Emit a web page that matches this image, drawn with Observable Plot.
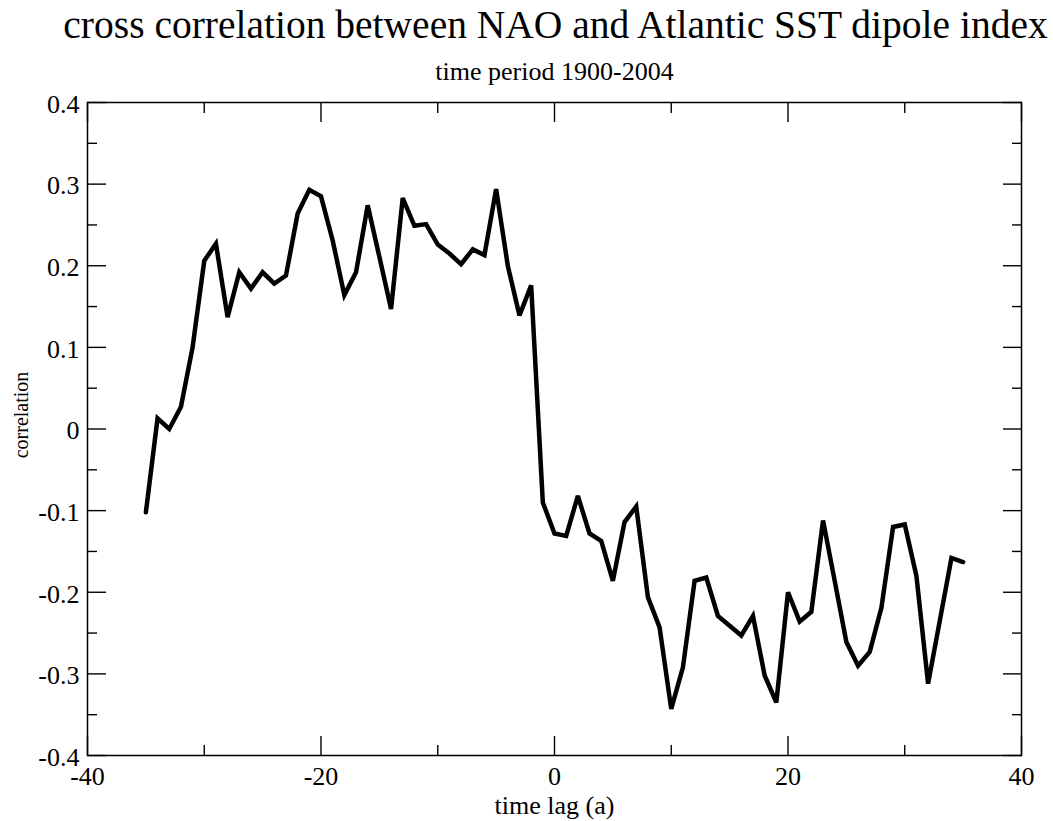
<!DOCTYPE html>
<html>
<head>
<meta charset="utf-8">
<script src="https://cdn.jsdelivr.net/npm/d3@7"></script>
<script src="https://cdn.jsdelivr.net/npm/@observablehq/plot@0.6"></script>
<style>
  html, body { margin: 0; padding: 0; background: #fff; }
  #chart svg { display: block; }
</style>
</head>
<body>
<div id="chart"></div>
<script>
const title = "cross correlation between NAO and Atlantic SST dipole index";
const subtitle = "time period 1900-2004";
const xLabel = "time lag (a)";
const yLabel = "correlation";

const lags = [
  -35, -34, -33, -32, -31, -30, -29, -28, -27, -26, -25, -24, -23, -22, -21, -20,
  -19, -18, -17, -16, -15, -14, -13, -12, -11, -10, -9, -8, -7, -6, -5, -4, -3, -2, -1,
  0, 1, 2, 3, 4, 5, 6, 7, 8, 9, 10, 11, 12, 13, 14, 15, 16, 17, 18, 19, 20,
  21, 22, 23, 24, 25, 26, 27, 28, 29, 30, 31, 32, 33, 34, 35
];
const correlation = [
  -0.102, 0.013, 0.000, 0.027, 0.100, 0.206, 0.227, 0.137, 0.192, 0.172, 0.192, 0.178, 0.188, 0.264, 0.293, 0.285,
  0.231, 0.164, 0.192, 0.274, 0.211, 0.147, 0.283, 0.249, 0.251, 0.226, 0.215, 0.202, 0.220, 0.213, 0.294, 0.200, 0.139, 0.176, -0.090,
  -0.128, -0.131, -0.082, -0.128, -0.137, -0.186, -0.114, -0.095, -0.206, -0.243, -0.343, -0.292, -0.186, -0.182, -0.229, -0.241, -0.253, -0.229, -0.302, -0.335, -0.200,
  -0.236, -0.224, -0.112, -0.186, -0.261, -0.290, -0.273, -0.219, -0.120, -0.117, -0.180, -0.312, -0.235, -0.158, -0.163
];

const xMajorTicks = [-40, -20, 0, 20, 40];
const xMinorTicks = [-30, -10, 10, 30];
const yMajorTicks = [-0.4, -0.3, -0.2, -0.1, 0, 0.1, 0.2, 0.3, 0.4];
const yMinorTicks = [-0.35, -0.25, -0.15, -0.05, 0.05, 0.15, 0.25, 0.35];

const data = lags.map((lag, i) => ({lag, r: correlation[i]}));
const fmtY = d => d === 0 ? "0" : d.toFixed(1);

const font = "'Liberation Serif', 'DejaVu Serif', 'Times New Roman', serif";
const majorLen = 19, minorLen = 10;
const tickOpts = {fill: "none", tickFormat: () => "", strokeWidth: 1.4, label: null};

const chart = Plot.plot({
  width: 1053,
  height: 821,
  marginLeft: 87,
  marginRight: 32,
  marginTop: 102,
  marginBottom: 66,
  style: {fontFamily: font, background: "#fff", color: "#000", overflow: "visible"},
  x: {domain: [-40, 40], label: null},
  y: {domain: [-0.4, 0.4], label: null},
  marks: [
    // inward tick marks on all four sides
    Plot.axisX(xMajorTicks, {anchor: "bottom", tickSize: -majorLen, ...tickOpts}),
    Plot.axisX(xMinorTicks, {anchor: "bottom", tickSize: -minorLen, ...tickOpts}),
    Plot.axisX(xMajorTicks, {anchor: "top", tickSize: -majorLen, ...tickOpts}),
    Plot.axisX(xMinorTicks, {anchor: "top", tickSize: -minorLen, ...tickOpts}),
    Plot.axisY(yMajorTicks, {anchor: "left", tickSize: -majorLen, ...tickOpts}),
    Plot.axisY(yMinorTicks, {anchor: "left", tickSize: -minorLen, ...tickOpts}),
    Plot.axisY(yMajorTicks, {anchor: "right", tickSize: -majorLen, ...tickOpts}),
    Plot.axisY(yMinorTicks, {anchor: "right", tickSize: -minorLen, ...tickOpts}),
    // tick labels
    Plot.axisX(xMajorTicks, {anchor: "bottom", tickSize: 0, tickPadding: 11, fontSize: 26, fontFamily: font, fill: "#000", tickFormat: d => String(d), label: null}),
    Plot.axisY(yMajorTicks, {anchor: "left", tickSize: 0, tickPadding: 8, fontSize: 26, fontFamily: font, fill: "#000", dy: 2, tickFormat: fmtY, label: null}),
    Plot.frame({stroke: "#000", strokeWidth: 1.5}),
    // the data line
    Plot.line(data, {x: "lag", y: "r", stroke: "#000", strokeWidth: 4.5, strokeLinejoin: "miter", strokeMiterlimit: 3}),
    // titles and axis labels
    Plot.text([title], {frameAnchor: "top", textAnchor: "middle", lineAnchor: "bottom", dy: -65, dx: 1, fontSize: 39.5, fontFamily: font, fill: "#000"}),
    Plot.text([subtitle], {frameAnchor: "top", textAnchor: "middle", lineAnchor: "bottom", dy: -23, fontSize: 26, fontFamily: font, fill: "#000"}),
    Plot.text([xLabel], {frameAnchor: "bottom", textAnchor: "middle", lineAnchor: "bottom", dy: 58, fontSize: 26, fontFamily: font, fill: "#000"}),
    Plot.text([yLabel], {frameAnchor: "left", textAnchor: "middle", rotate: -90, dx: -66, dy: -14, fontSize: 20, fontFamily: font, fill: "#000"})
  ]
});

document.getElementById("chart").appendChild(chart);
</script>
</body>
</html>
